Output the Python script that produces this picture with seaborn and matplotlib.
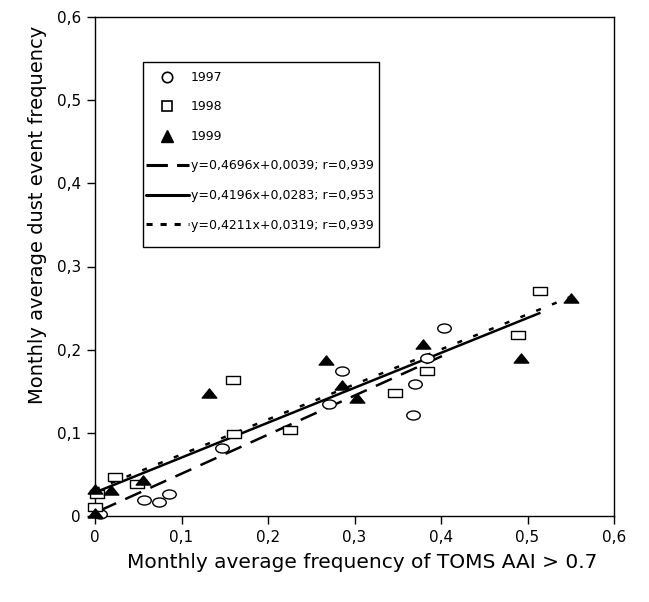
import numpy as np
import pandas as pd
import matplotlib
matplotlib.use("Agg")
import matplotlib.pyplot as plt
from matplotlib.path import Path
from matplotlib.lines import Line2D
from matplotlib.patches import Rectangle
import seaborn as sns

# ---------------- data ----------------
x1997 = [0.006, 0.057, 0.074, 0.085, 0.147, 0.270, 0.286, 0.368, 0.370, 0.384, 0.403]
y1997 = [0.003, 0.019, 0.017, 0.027, 0.082, 0.135, 0.174, 0.122, 0.159, 0.190, 0.226]

x1998 = [0.000, 0.002, 0.023, 0.049, 0.159, 0.161, 0.225, 0.347, 0.384, 0.489, 0.515]
y1998 = [0.011, 0.026, 0.047, 0.038, 0.163, 0.098, 0.104, 0.148, 0.174, 0.218, 0.271]

x1999 = [0.000, 0.000, 0.019, 0.055, 0.132, 0.267, 0.286, 0.303, 0.379, 0.493, 0.550]
y1999 = [0.004, 0.033, 0.031, 0.043, 0.148, 0.188, 0.158, 0.142, 0.207, 0.190, 0.262]

years = ["1997", "1998", "1999"]
slopes = [0.4696, 0.4196, 0.4211]
intercepts = [0.0039, 0.0283, 0.0319]
fit_labels = ["y=0,4696x+0,0039; r=0,939",
              "y=0,4196x+0,0283; r=0,953",
              "y=0,4211x+0,0319; r=0,939"]

tick_values = [0, 0.1, 0.2, 0.3, 0.4, 0.5, 0.6]
tick_labels = ["0", "0,1", "0,2", "0,3", "0,4", "0,5", "0,6"]

x_title = "Monthly average frequency of TOMS AAI > 0.7"
y_title = "Monthly average dust event frequency"

# ---------------- style ----------------
sns.set_theme(style="white")
plt.rcParams["font.family"] = ["DejaVu Sans"]
plt.rcParams["text.color"] = "black"

W, H = 649, 602
fig = plt.figure(figsize=(W / 100, H / 100), dpi=100)
left, right, top, bottom = 95, 614, 17, 516
ax = fig.add_axes([left / W, (H - bottom) / H, (right - left) / W, (bottom - top) / H])

def closed(verts):
    v = list(verts) + [verts[0]]
    codes = [Path.MOVETO] + [Path.LINETO] * (len(verts) - 1) + [Path.CLOSEPOLY]
    return Path(v, codes)

circ = Path.unit_circle()
ell = Path(circ.vertices * np.array([1.5, 1.0]), circ.codes)
rect = closed([(-1.6, -1), (1.6, -1), (1.6, 1), (-1.6, 1)])
tri = closed([(-1.6, -1), (1.6, -1), (0, 1)])

df = pd.DataFrame({
    "x": x1997 + x1998 + x1999,
    "y": y1997 + y1998 + y1999,
    "year": ["1997"] * len(x1997) + ["1998"] * len(x1998) + ["1999"] * len(x1999),
})

# regression lines
dash_styles = [(0, (7.0, 4.0)), "-", (0, (2.0, 4.8))]
for i, yr in enumerate(years):
    sub = df[df["year"] == yr]
    xs = np.array([sub["x"].min(), sub["x"].max()])
    ys = slopes[i] * xs + intercepts[i]
    ax.plot(xs, ys, color="black", lw=1.8, linestyle=dash_styles[i],
            solid_capstyle="butt", dash_capstyle="butt", zorder=2)

sty = {
    "1997": dict(marker=ell, facecolor="white", edgecolor="black", s=95),
    "1998": dict(marker=rect, facecolor="white", edgecolor="black", s=100),
    "1999": dict(marker=tri, facecolor="black", edgecolor="black", s=110),
}
for yr in years:
    sub = df[df["year"] == yr]
    sns.scatterplot(data=sub, x="x", y="y", ax=ax, linewidth=1.0,
                    clip_on=False, zorder=3, legend=False, **sty[yr])

ax.set_xlim(0, 0.6)
ax.set_ylim(0, 0.6)
ax.set_xticks(tick_values)
ax.set_xticklabels(tick_labels)
ax.set_yticks(tick_values)
ax.set_yticklabels(tick_labels)
ax.tick_params(axis="both", direction="out", length=6, width=1, color="black",
               labelsize=11, labelcolor="black", bottom=True, left=True, pad=4)
for sp in ax.spines.values():
    sp.set_visible(True)
    sp.set_color("black")
    sp.set_linewidth(1.0)

ax.set_xlabel(x_title, fontsize=14.5, color="black")
ax.set_ylabel(y_title, fontsize=14, color="black")
ax.xaxis.set_label_coords((362 - left) / (right - left), -(563 - bottom) / (bottom - top))
ax.yaxis.set_label_coords(-(95 - 38) / (right - left), (bottom - 215) / (bottom - top))
ax.xaxis.label.set_va("center")
ax.yaxis.label.set_va("center")

# legend
handles = [
    Line2D([], [], linestyle="none", marker="o", markersize=7.5, markerfacecolor="white",
           markeredgecolor="black", markeredgewidth=1.2),
    Line2D([], [], linestyle="none", marker="s", markersize=7.5, markerfacecolor="white",
           markeredgecolor="black", markeredgewidth=1.2),
    Line2D([], [], linestyle="none", marker="^", markersize=8, markerfacecolor="black",
           markeredgecolor="black"),
    Line2D([], [], color="black", lw=2.2, linestyle=(0, (7.0, 3.0))),
    Line2D([], [], color="black", lw=2.2, linestyle="-"),
    Line2D([], [], color="black", lw=2.2, linestyle=(0, (2.0, 2.6))),
]
labels = years + fit_labels
leg = ax.legend(handles, labels, loc="upper left",
                bbox_to_anchor=(146 / W, 1 - 71 / H), bbox_transform=fig.transFigure,
                frameon=False, fontsize=9,
                handlelength=3.4, handletextpad=0.2, labelspacing=1.32,
                borderpad=0.0, borderaxespad=0.0)
for t in leg.get_texts():
    t.set_color("black")
fig.add_artist(Rectangle((143 / W, 1 - 247 / H), (379 - 143) / W, (247 - 62) / H,
                         transform=fig.transFigure, fill=False, edgecolor="black",
                         linewidth=1.0, zorder=5))

fig.savefig("out.png", dpi=100)
